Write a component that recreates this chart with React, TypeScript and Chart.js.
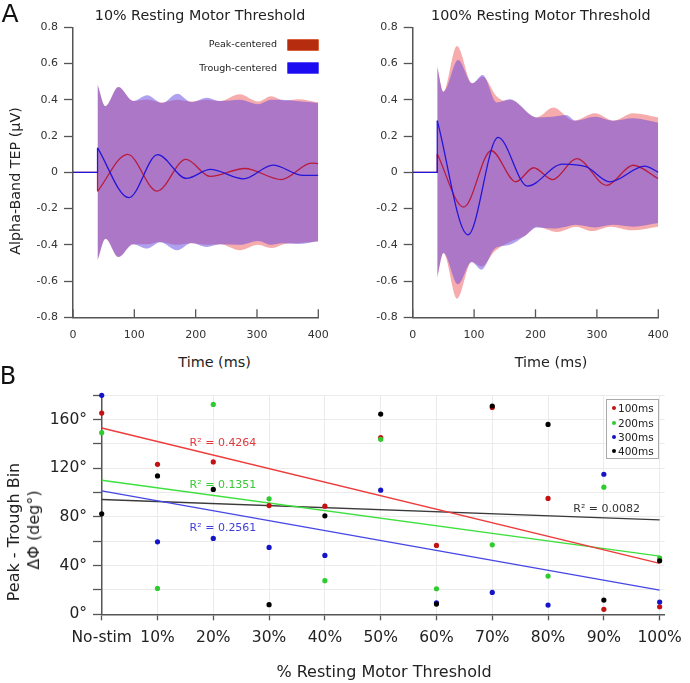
import React, { useEffect, useRef } from "react";
import { Chart, registerables } from "chart.js";
Chart.register(...registerables);

const FONT = '"DejaVu Sans", Verdana, sans-serif';
const AXIS = "#555555";

// ---------------- Panel A data ----------------
const timeTicks = [0, 100, 200, 300, 400];
const tepTicks = [-0.8, -0.6, -0.4, -0.2, 0, 0.2, 0.4, 0.6, 0.8];
const onsetMs = 40;

// 10% Resting Motor Threshold  ([time ms, µV])
const lowTroughLine = [[40, 0.135], [91, -0.14], [138, 0.097], [185, -0.034], [224, 0.016], [278, -0.036], [326, 0.04], [375, -0.017], [400, -0.017]];
const lowPeakLine = [[40, -0.105], [89, 0.099], [137, -0.104], [184, 0.071], [224, -0.023], [280, 0.021], [340, -0.04], [389, 0.051], [400, 0.048]];
const lowTroughUpper = [[40, 0.485], [53, 0.365], [74, 0.47], [98, 0.393], [121, 0.425], [145, 0.382], [170, 0.434], [193, 0.388], [218, 0.412], [240, 0.393], [272, 0.4], [302, 0.375], [323, 0.4], [341, 0.4], [367, 0.392], [400, 0.383]];
const lowTroughLower = [[40, -0.485], [53, -0.366], [74, -0.467], [98, -0.397], [121, -0.421], [142, -0.386], [170, -0.43], [193, -0.39], [218, -0.412], [240, -0.397], [272, -0.4], [302, -0.379], [323, -0.4], [341, -0.392], [367, -0.395], [400, -0.38]];
const lowPeakUpper = [[40, 0.485], [53, 0.365], [74, 0.47], [98, 0.393], [121, 0.401], [145, 0.385], [170, 0.4], [193, 0.39], [218, 0.4], [240, 0.393], [272, 0.43], [302, 0.39], [323, 0.419], [345, 0.395], [367, 0.403], [400, 0.385]];
const lowPeakLower = [[40, -0.485], [53, -0.366], [74, -0.467], [98, -0.397], [121, -0.397], [142, -0.384], [170, -0.4], [193, -0.392], [218, -0.4], [240, -0.397], [272, -0.43], [302, -0.4], [323, -0.418], [345, -0.395], [367, -0.39], [400, -0.38]];

// 100% Resting Motor Threshold
const highTroughLine = [[40, 0.285], [90, -0.345], [139, 0.193], [187, -0.076], [244, 0.045], [282, 0.031], [321, -0.053], [378, 0.034], [400, 0.0]];
const highPeakLine = [[40, 0.101], [83, -0.192], [128, 0.119], [168, -0.052], [197, 0.025], [228, -0.04], [267, 0.076], [316, -0.072], [359, 0.039], [400, -0.035]];
const highTroughUpper = [[40, 0.583], [50, 0.445], [74, 0.62], [97, 0.491], [114, 0.537], [137, 0.385], [158, 0.403], [202, 0.303], [228, 0.307], [250, 0.316], [265, 0.285], [297, 0.307], [326, 0.285], [359, 0.298], [400, 0.274]];
const highTroughLower = [[40, -0.581], [50, -0.445], [74, -0.618], [96, -0.495], [112, -0.537], [134, -0.42], [158, -0.4], [183, -0.35], [202, -0.305], [228, -0.31], [250, -0.3], [265, -0.29], [297, -0.305], [326, -0.29], [359, -0.3], [400, -0.28]];
const highPeakUpper = [[40, 0.583], [50, 0.445], [72, 0.697], [97, 0.491], [114, 0.527], [137, 0.418], [150, 0.395], [158, 0.4], [202, 0.303], [229, 0.357], [262, 0.285], [297, 0.326], [327, 0.285], [359, 0.326], [400, 0.303]];
const highPeakLower = [[40, -0.581], [50, -0.445], [72, -0.697], [96, -0.495], [112, -0.52], [134, -0.434], [158, -0.384], [183, -0.35], [202, -0.3], [235, -0.329], [266, -0.3], [292, -0.324], [322, -0.3], [357, -0.32], [400, -0.3]];

// ---------------- Panel B data ----------------
const rmtCategories = ["No-stim", "10%", "20%", "30%", "40%", "50%", "60%", "70%", "80%", "90%", "100%"];
const degTicks = [0, 20, 40, 60, 80, 100, 120, 140, 160, 180];
const dphi100 = [165.4, 123.3, 125.2, 89.4, 88.9, 145.2, 56.6, 170, 95.2, 4.1, 6.2];
const dphi200 = [149.3, 21.3, 172.5, 94.9, 27.6, 143.8, 21, 57.1, 31.4, 104.5, 46.2];
const dphi300 = [180, 59.6, 62.4, 55, 48.4, 102, 9.5, 18, 7.6, 115.1, 10.1];
const dphi400 = [82.6, 113.7, 102.6, 7.9, 80.9, 164.6, 8.4, 171.2, 156.1, 11.7, 44];
const fit100 = [153.1, 41.8];
const fit200 = [110.2, 47.8];
const fit300 = [101.4, 19.9];
const fit400 = [94.3, 77.6];
const r2Labels = ["R² = 0.4264", "R² = 0.1351", "R² = 0.2561", "R² = 0.0082"];
const seriesNames = ["100ms", "200ms", "300ms", "400ms"];

// ---------------- styling ----------------
const RED_LINE = "#b81c3c";
const BLUE_LINE = "#2416d8";
const RED_FILL = "rgba(235,70,70,0.45)";
const BLUE_FILL = "rgba(98,66,226,0.5)";
const PT_COLORS = ["#c41212", "#2fcc2f", "#1414c8", "#000000"];
const FIT_COLORS = ["#ee3b3b", "#3ee03e", "#4646e6", "#3a3a3a"];
const R2_COLORS = ["#e03a3a", "#38c838", "#4040d8", "#333333"];

const pts = (arr: number[][]) => arr.map(([x, y]) => ({ x, y }));

const inwardXTicks = {
  id: "inwardXTicks",
  afterDraw(chart: any) {
    const { ctx, chartArea, scales } = chart;
    const xs = scales.x;
    ctx.save();
    ctx.strokeStyle = AXIS;
    ctx.lineWidth = 1.3;
    xs.ticks.forEach((t: any) => {
      const px = xs.getPixelForValue(t.value);
      ctx.beginPath();
      ctx.moveTo(px, chartArea.bottom);
      ctx.lineTo(px, chartArea.bottom - 8);
      ctx.stroke();
    });
    ctx.restore();
  },
};

function lineDs(data: number[][], color: string, mono: boolean) {
  return {
    data: pts(data),
    borderColor: color,
    borderWidth: 1.3,
    pointRadius: 0,
    fill: false,
    tension: 0,
    cubicInterpolationMode: mono ? "monotone" : "default",
  };
}
function bandDs(data: number[][], color: string | null) {
  return {
    data: pts(data),
    borderColor: "rgba(0,0,0,0)",
    borderWidth: 0,
    pointRadius: 0,
    backgroundColor: color || "rgba(0,0,0,0)",
    fill: color ? "+1" : false,
    cubicInterpolationMode: "monotone",
  };
}

function panelAConfig(trough: number[][], peak: number[][], tu: number[][], tl: number[][], pu: number[][], pl: number[][], yW: number, padRight: number, xH: number): any {
  return {
    type: "line",
    data: {
      datasets: [
        lineDs([[0, 0], [onsetMs, 0], [onsetMs, trough[0][1]]], BLUE_LINE, false),
        lineDs(trough, BLUE_LINE, true),
        lineDs([[0, 0], [onsetMs, 0], [onsetMs, peak[0][1]]], RED_LINE, false),
        lineDs(peak, RED_LINE, true),
        bandDs(tu, BLUE_FILL),
        bandDs(tl, null),
        bandDs(pu, RED_FILL),
        bandDs(pl, null),
      ],
    },
    options: {
      animation: false,
      responsive: false,
      layout: { padding: { top: 27.3, right: padRight, left: 0, bottom: 0 } },
      plugins: { legend: { display: false }, tooltip: { enabled: false }, title: { display: false } },
      scales: {
        x: {
          type: "linear",
          min: 0,
          max: 400,
          afterBuildTicks: (s: any) => { s.ticks = timeTicks.map((v) => ({ value: v })); },
          afterFit: (s: any) => { s.height = xH; },
          grid: { drawOnChartArea: false, drawTicks: false },
          border: { color: AXIS, width: 1.5 },
          ticks: { padding: 11, color: "#333", autoSkip: false, maxRotation: 0, font: { family: FONT, size: 11 }, callback: (v: any) => String(v) },
        },
        y: {
          type: "linear",
          min: -0.8,
          max: 0.8,
          afterBuildTicks: (s: any) => { s.ticks = tepTicks.map((v) => ({ value: v })); },
          afterFit: (s: any) => { s.width = yW; },
          grid: { drawOnChartArea: false, drawTicks: true, tickLength: 9, tickColor: AXIS, tickWidth: 1.3 },
          border: { color: AXIS, width: 1.5 },
          ticks: { padding: 6, color: "#333", autoSkip: false, font: { family: FONT, size: 11 }, callback: (v: any) => String(v) },
        },
      },
    },
    plugins: [inwardXTicks],
  };
}

function panelBConfig(): any {
  const scatter = [dphi100, dphi200, dphi300, dphi400].map((arr, i) => ({
    data: arr.map((y, x) => ({ x, y })),
    showLine: false,
    pointRadius: 2.6,
    pointBorderWidth: 0,
    pointBackgroundColor: PT_COLORS[i],
    borderColor: PT_COLORS[i],
    clip: false,
  }));
  const fits = [fit100, fit200, fit300, fit400].map((f, i) => ({
    data: [{ x: 0, y: f[0] }, { x: rmtCategories.length - 1, y: f[1] }],
    borderColor: FIT_COLORS[i],
    borderWidth: 1.4,
    pointRadius: 0,
    fill: false,
    clip: false,
  }));
  // black points on top: first dataset drawn last
  return {
    type: "line",
    data: { datasets: [scatter[3], scatter[2], scatter[1], scatter[0], ...fits] },
    options: {
      animation: false,
      responsive: false,
      layout: { padding: { top: 15, right: 22, left: 0, bottom: 0 } },
      plugins: { legend: { display: false }, tooltip: { enabled: false } },
      scales: {
        x: {
          type: "linear",
          min: 0,
          max: 10.09,
          afterBuildTicks: (s: any) => { s.ticks = rmtCategories.map((_, i) => ({ value: i })); },
          afterFit: (s: any) => { s.height = 68.7; },
          grid: { color: "#ebebeb", lineWidth: 1, drawTicks: true, tickLength: 6, tickColor: AXIS, tickWidth: 1.3 },
          border: { color: AXIS, width: 1.5 },
          ticks: { padding: 8, color: "#222", autoSkip: false, maxRotation: 0, font: { family: FONT, size: 15.5 }, callback: (v: any) => rmtCategories[Math.round(v)] },
        },
        y: {
          type: "linear",
          min: 0,
          max: 180,
          afterBuildTicks: (s: any) => { s.ticks = degTicks.map((v) => ({ value: v })); },
          afterFit: (s: any) => { s.width = 101.7; },
          grid: { color: "#ebebeb", lineWidth: 1, drawTicks: true, tickLength: 8.7, tickColor: AXIS, tickWidth: 1.3 },
          border: { color: AXIS, width: 1.5 },
          ticks: { padding: 6, color: "#222", autoSkip: false, font: { family: FONT, size: 15.5 }, callback: (v: any) => (v % 40 === 0 && v <= 160 ? v + "°" : "") },
        },
      },
    },
  };
}

function ChartCanvas({ left, top, width, height, make }: { left: number; top: number; width: number; height: number; make: () => any }) {
  const ref = useRef<HTMLCanvasElement>(null);
  useEffect(() => {
    const chart = new Chart(ref.current as HTMLCanvasElement, make());
    return () => chart.destroy();
  }, []);
  return <canvas ref={ref} width={width} height={height} style={{ position: "absolute", left, top, width, height }} />;
}

function Txt({ x, y, size, color = "#222", align = "center", children }: any) {
  const tx = align === "right" ? "-100%" : align === "left" ? "0" : "-50%";
  return (
    <div
      style={{
        position: "absolute",
        left: x,
        top: y,
        transform: `translate(${tx},-50%)`,
        fontFamily: FONT,
        fontSize: size,
        color,
        whiteSpace: "nowrap",
        lineHeight: 1,
      }}
    >
      {children}
    </div>
  );
}

function RotTxt({ x, y, size, children }: any) {
  return (
    <div
      style={{
        position: "absolute",
        left: x,
        top: y,
        transform: "translate(-50%,-50%) rotate(-90deg)",
        fontFamily: FONT,
        fontSize: size,
        color: "#222",
        whiteSpace: "nowrap",
        lineHeight: 1,
      }}
    >
      {children}
    </div>
  );
}

export default function App() {
  const r2Pos = [[223, 441.7], [223, 484.3], [223, 526.7], [606.7, 508.3]];
  const legRows = [408.3, 422.7, 437, 451.3];
  return (
    <div style={{ position: "absolute", left: 0, top: 0, width: 690, height: 683, background: "#fff", overflow: "hidden" }}>
      <ChartCanvas left={0} top={0} width={345} height={345}
        make={() => panelAConfig(lowTroughLine, lowPeakLine, lowTroughUpper, lowTroughLower, lowPeakUpper, lowPeakLower, 73, 26.7, 27.7)} />
      <ChartCanvas left={340} top={0} width={350} height={345}
        make={() => panelAConfig(highTroughLine, highPeakLine, highTroughUpper, highTroughLower, highPeakUpper, highPeakLower, 72.7, 31.7, 27.7)} />
      <ChartCanvas left={0} top={380} width={690} height={303} make={panelBConfig} />

      <Txt x={10} y={13} size={25} color="#111">A</Txt>
      <Txt x={8} y={375.5} size={24} color="#111">B</Txt>

      <Txt x={200} y={15} size={14.3}>10% Resting Motor Threshold</Txt>
      <Txt x={540.8} y={15} size={14.3}>100% Resting Motor Threshold</Txt>
      <RotTxt x={15} y={181} size={14.3}>Alpha-Band TEP (μV)</RotTxt>
      <Txt x={214.6} y={361.7} size={14.4}>Time (ms)</Txt>
      <Txt x={551} y={361.7} size={14.4}>Time (ms)</Txt>

      <Txt x={277} y={44} size={9.5} align="right">Peak-centered</Txt>
      <Txt x={277} y={67.5} size={9.5} align="right">Trough-centered</Txt>
      <div style={{ position: "absolute", left: 287, top: 39, width: 31.5, height: 11.7, background: "#b52d0e", border: "1px solid #d8603f", boxSizing: "border-box", borderRadius: 1 }} />
      <div style={{ position: "absolute", left: 287, top: 62.3, width: 31.5, height: 11.7, background: "#1c0cf2", border: "1px solid #5a50f8", boxSizing: "border-box", borderRadius: 1 }} />

      <RotTxt x={14} y={531.5} size={16}>Peak - Trough Bin</RotTxt>
      <RotTxt x={34} y={530} size={16}>ΔΦ (deg°)</RotTxt>
      <Txt x={384} y={672} size={16}>% Resting Motor Threshold</Txt>

      {r2Labels.map((t, i) => (
        <Txt key={t} x={r2Pos[i][0]} y={r2Pos[i][1]} size={11} color={R2_COLORS[i]}>{t}</Txt>
      ))}

      <div style={{ position: "absolute", left: 605.7, top: 399, width: 53.3, height: 60, border: "1.5px solid #aaaaaa", boxSizing: "border-box", background: "#fff" }} />
      {seriesNames.map((n, i) => (
        <React.Fragment key={n}>
          <div style={{ position: "absolute", left: 612, top: legRows[i] - 2, width: 4, height: 4, borderRadius: 2, background: PT_COLORS[i] }} />
          <Txt x={618} y={legRows[i]} size={10.5} align="left">{n}</Txt>
        </React.Fragment>
      ))}
    </div>
  );
}
